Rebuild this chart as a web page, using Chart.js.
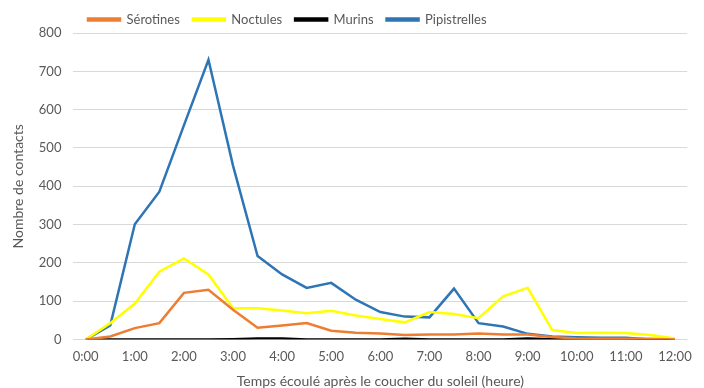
<!DOCTYPE html>
<html>
<head>
<meta charset="utf-8">
<script src="https://cdn.jsdelivr.net/npm/chart.js@4/dist/chart.umd.min.js"></script>
<style>
  html, body { margin: 0; padding: 0; background: #fff; }
  #wrap { width: 704px; height: 388px; position: relative; }
</style>
</head>
<body>
<div id="wrap"><canvas id="chart"></canvas></div>
<script>
// temps après le coucher du soleil, pas de 30 min
const timeLabels = ['0:00','0:30','1:00','1:30','2:00','2:30','3:00','3:30','4:00','4:30','5:00','5:30','6:00',
  '6:30','7:00','7:30','8:00','8:30','9:00','9:30','10:00','10:30','11:00','11:30','12:00'];

const serotines = [0, 8, 30, 43, 122, 130, 78, 31, 37, 43, 23, 18, 16, 12, 13, 13, 16, 13, 13, 7, 3, 2, 2, 2, 0];
const noctules = [0, 43, 94, 177, 212, 170, 82, 82, 76, 69, 75, 63, 54, 45, 72, 67, 56, 113, 135, 25, 17, 18, 17, 12, 3];
const murins = [0, 0, 0, 0, 0, 0, 1, 3, 3, 0, 0, 0, 0, 2, 0, 0, 0, 0, 3, 1, 0, 0, 0, 0, 0];
const pipistrelles = [0, 37, 301, 386, 559, 730, 454, 218, 170, 135, 148, 104, 72, 60, 58, 133, 43, 34, 15, 8, 6, 5, 5, 0, 0];

const yTicks = [0, 100, 200, 300, 400, 500, 600, 700, 800];

const textColor = '#595959';
const fontFamily = 'Lato, "Open Sans", sans-serif';

function serie(label, data, color) {
  return {
    label: label,
    data: data,
    borderColor: color,
    backgroundColor: color,
    borderWidth: 2.5,
    pointRadius: 0,
    tension: 0
  };
}

// la légende n'est pas centrée dans l'original : on la décale et on la resserre
const legendShift = {
  id: 'legendShift',
  afterInit(chart) {
    const legend = chart.legend;
    const fit = legend.fit;
    legend.fit = function() { fit.call(this); this.height -= 3; };
  },
  afterLayout(chart) {
    chart.legend.left += 65;
    chart.legend.right += 65;
  }
};

new Chart(document.getElementById('chart'), {
  type: 'line',
  data: {
    labels: timeLabels,
    datasets: [
      serie('Sérotines', serotines, '#ED7D31'),
      serie('Noctules', noctules, '#FFFF00'),
      serie('Murins', murins, '#000000'),
      serie('Pipistrelles', pipistrelles, '#2E75B6')
    ]
  },
  plugins: [legendShift],
  options: {
    responsive: true,
    maintainAspectRatio: false,
    animation: false,
    layout: { padding: { left: 10, right: 16, top: 0, bottom: 0 } },
    plugins: {
      tooltip: { enabled: false },
      legend: {
        position: 'top',
        align: 'start',
        labels: {
          boxWidth: 32,
          boxHeight: 2,
          padding: 13,
          color: textColor,
          font: { family: fontFamily, size: 13 }
        }
      }
    },
    scales: {
      x: {
        offset: true,
        grid: { display: false, drawTicks: false },
        border: { display: false },
        ticks: {
          color: textColor,
          font: { family: fontFamily, size: 13, lineHeight: 0.8 },
          autoSkip: false,
          maxRotation: 0,
          padding: 12,
          callback: function(v, i) { return i % 2 === 0 ? timeLabels[i] : ''; }
        },
        title: {
          display: true,
          text: 'Temps écoulé après le coucher du soleil (heure)',
          color: textColor,
          font: { family: fontFamily, size: 14, lineHeight: 1.0 },
          padding: { top: 0, bottom: 0 }
        }
      },
      y: {
        min: 0,
        max: 800,
        afterBuildTicks: function(axis) { axis.ticks = yTicks.map(v => ({ value: v })); },
        grid: { color: '#d9d9d9', lineWidth: 1, drawTicks: false },
        border: { display: false },
        ticks: {
          color: textColor,
          font: { family: fontFamily, size: 13 },
          padding: 12
        },
        title: {
          display: true,
          text: 'Nombre de contacts',
          color: textColor,
          font: { family: fontFamily, size: 14 },
          padding: { top: 0, bottom: 0 }
        }
      }
    }
  }
});
</script>
</body>
</html>
